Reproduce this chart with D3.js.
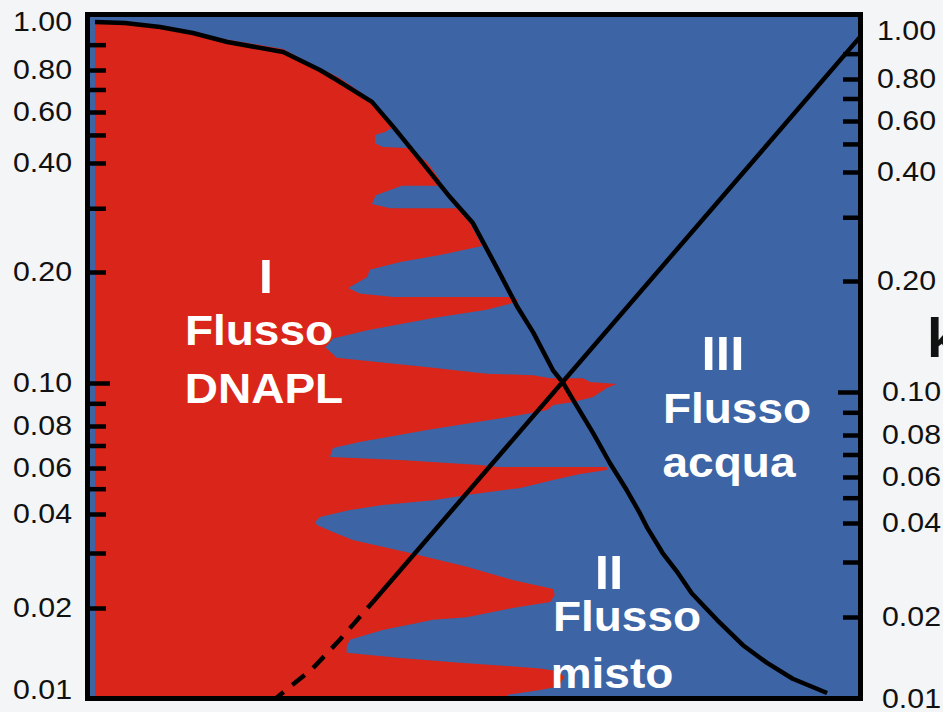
<!DOCTYPE html>
<html>
<head>
<meta charset="utf-8">
<script src="https://cdn.jsdelivr.net/npm/d3@7"></script>
<style>
  html, body { margin: 0; padding: 0; background: #f3f5f6; }
  svg { display: block; }
</style>
</head>
<body>
<svg id="chart" width="943" height="712"></svg>
<script>
// ---- Data: relative permeability (log) against water saturation ----

// DNAPL relative permeability curve (left axis)
const satDNAPL = [0, 0.039, 0.085, 0.128, 0.173, 0.246, 0.294, 0.316, 0.362, 0.390, 0.425, 0.464, 0.494, 0.525,
  0.552, 0.573, 0.599, 0.612, 0.625, 0.651, 0.673, 0.695, 0.712, 0.722, 0.742, 0.762, 0.780, 0.813, 0.847,
  0.878, 0.912, 0.957];
const krDNAPL = [1.0, 0.995, 0.977, 0.950, 0.911, 0.870, 0.800, 0.747, 0.643, 0.533, 0.410, 0.322, 0.273, 0.206,
  0.161, 0.137, 0.108, 0.100, 0.0916, 0.0763, 0.0621, 0.0494, 0.0404, 0.0361, 0.0300, 0.0259, 0.0223, 0.0181, 0.0146,
  0.0126, 0.0110, 0.00975];

// Water relative permeability (right axis): extrapolated part, then measured part
const satWaterExtrap = [0.231, 0.239, 0.284, 0.320, 0.363];
const krWaterExtrap  = [0.0097, 0.0102, 0.0129, 0.0165, 0.0223];
const satWater = [0.363, 0.600, 1.0];
const krWater  = [0.0223, 0.100, 0.972];

// Limit of the DNAPL-flow field (right edge of region I), listed from top to bottom
const fieldSat = [0.039, 0.085, 0.128, 0.176, 0.246, 0.294, 0.320, 0.362,
  0.388, 0.379, 0.366, 0.366, 0.376, 0.408, 0.412, 0.434, 0.451,
  0.448, 0.401, 0.367, 0.362, 0.386, 0.473, 0.490, 0.506,
  0.451, 0.399, 0.359, 0.356, 0.331, 0.346, 0.390, 0.546, 0.553,
  0.552, 0.512, 0.442, 0.356, 0.311, 0.301, 0.316, 0.350, 0.442, 0.512, 0.573, 0.595,
  0.638, 0.647, 0.682, 0.669, 0.651, 0.625, 0.599, 0.591,
  0.556, 0.434, 0.346, 0.311, 0.307, 0.399, 0.503, 0.529, 0.669,
  0.669, 0.634, 0.599, 0.556, 0.486, 0.442, 0.376, 0.333, 0.294, 0.288,
  0.290, 0.311, 0.337, 0.412, 0.486, 0.546, 0.599, 0.601, 0.595,
  0.546, 0.486, 0.442, 0.376, 0.333, 0.329,
  0.329, 0.399, 0.477, 0.582, 0.599, 0.614, 0.605, 0.582, 0.539, 0.539];
const fieldKr = [0.991, 0.972, 0.950, 0.920, 0.882, 0.807, 0.757, 0.651,
  0.528, 0.512, 0.500, 0.469, 0.454, 0.451, 0.444, 0.403, 0.359,
  0.346, 0.346, 0.326, 0.308, 0.300, 0.300, 0.273, 0.236,
  0.223, 0.213, 0.203, 0.194, 0.181, 0.175, 0.171, 0.171, 0.168,
  0.166, 0.158, 0.150, 0.139, 0.132, 0.125, 0.117, 0.115, 0.110, 0.106, 0.105, 0.103,
  0.103, 0.1006, 0.0995, 0.0974, 0.0930, 0.0906, 0.0892, 0.0869,
  0.0847, 0.0778, 0.0717, 0.0688, 0.0647, 0.0634, 0.0612, 0.0604, 0.0604,
  0.0590, 0.0569, 0.0540, 0.0503, 0.0473, 0.0452, 0.0433, 0.0414, 0.0391, 0.0377,
  0.0369, 0.0350, 0.0330, 0.0300, 0.0271, 0.0246, 0.0230, 0.0220, 0.0209,
  0.0200, 0.0185, 0.0181, 0.0166, 0.0153, 0.0144,
  0.0137, 0.0131, 0.0126, 0.0120, 0.0118, 0.0112, 0.0103, 0.0100, 0.0096, 0.0092];

// Axis ticks
const tickValues = [0.01, 0.02, 0.03, 0.04, 0.05, 0.06, 0.07, 0.08, 0.09, 0.1,
  0.2, 0.3, 0.4, 0.5, 0.6, 0.7, 0.8, 0.9, 1];
const tickLabels = [0.01, 0.02, 0.04, 0.06, 0.08, 0.1, 0.2, 0.4, 0.6, 0.8, 1];

// Flow regime names
const regionI   = ["I", "Flusso", "DNAPL"];
const regionIII = ["III", "Flusso", "acqua"];
const regionII  = ["II", "Flusso", "misto"];

// ---- Drawing ----
const BLUE = "#3d64a5", RED = "#da261a", INK = "#111";
const FONT = "'Liberation Sans', Arial, Helvetica, sans-serif";

const svg = d3.select("#chart");
const x = d3.scaleLinear().domain([0, 1]).range([95, 860]);

// The printed log axis is hand-spaced, so the scale is calibrated
// piecewise on each labelled value.
const axisStops = [690, 608, 514, 468, 426, 383, 272, 163, 112, 70, 22];
const yL = d3.scaleLog().domain(tickLabels).range(axisStops);
const yR = d3.scaleLog().domain(tickLabels).range(axisStops.map(v => v + 9));

svg.append("defs").append("clipPath").attr("id", "plotClip")
  .append("rect").attr("x", 90).attr("y", 17).attr("width", 768).attr("height", 679);

// plot background (water flow field)
svg.append("rect").attr("x", 87.5).attr("y", 14.5).attr("width", 773).attr("height", 684)
  .attr("fill", BLUE);

const plot = svg.append("g").attr("clip-path", "url(#plotClip)");

// DNAPL flow field
const field = fieldSat.map((s, i) => ({ sw: s, kr: fieldKr[i] }));
plot.append("path")
  .datum(field)
  .attr("fill", RED)
  .attr("d", d3.area().x0(x(0)).x1(d => x(d.sw)).y(d => yL(d.kr)));

// curves
const lineL = d3.line().x(d => x(d.sw)).y(d => yL(d.kr));
const lineR = d3.line().x(d => x(d.sw)).y(d => yR(d.kr));
const curveStyle = sel => sel.attr("fill", "none").attr("stroke", "#000")
  .attr("stroke-width", 4.5).attr("stroke-linejoin", "round");

plot.append("path").datum(satDNAPL.map((s, i) => ({ sw: s, kr: krDNAPL[i] })))
  .call(curveStyle).attr("d", lineL);
plot.append("path").datum(satWater.map((s, i) => ({ sw: s, kr: krWater[i] })))
  .call(curveStyle).attr("d", lineR);
plot.append("path").datum(satWaterExtrap.map((s, i) => ({ sw: s, kr: krWaterExtrap[i] })))
  .call(curveStyle).attr("stroke-dasharray", "16,11").attr("d", lineR);

// frame
svg.append("rect").attr("x", 87.5).attr("y", 14.5).attr("width", 773).attr("height", 684)
  .attr("fill", "none").attr("stroke", "#000").attr("stroke-width", 5);

// axes
const fmt = d3.format(".2f");
const labelSet = new Set(tickLabels);
const styleAxis = (g, sign) => {
  g.select(".domain").remove();
  g.selectAll(".tick line").attr("stroke", "#000").attr("stroke-width", 4.5);
  g.selectAll(".tick line").filter(d => d === 0.1).attr("x2", sign * 22);
  g.selectAll(".tick line").filter(d => d === 1 || d === 0.01).remove();
  g.selectAll(".tick text")
    .attr("fill", INK).style("font-family", FONT).style("font-size", "27px")
    .filter(function () { return this.textContent !== ""; })
    .attr("textLength", 59).attr("lengthAdjust", "spacingAndGlyphs");
};

svg.append("g").attr("transform", "translate(88,0)")
  .call(d3.axisLeft(yL).tickValues(tickValues).tickSizeInner(-18).tickSizeOuter(0)
    .tickPadding(16).tickFormat(d => labelSet.has(d) ? fmt(d) : ""))
  .call(g => styleAxis(g, 1));

svg.append("g").attr("transform", "translate(860,0)")
  .call(d3.axisRight(yR).tickValues(tickValues).tickSizeInner(-17).tickSizeOuter(0)
    .tickPadding(17).tickFormat(d => labelSet.has(d) ? fmt(d) : ""))
  .call(g => styleAxis(g, -1))
  .call(g => g.selectAll(".tick text").filter(d => d < 0.2).attr("x", 22));

// right axis title (partly outside the window)
svg.append("text").attr("x", 927).attr("y", 357).text("kr")
  .attr("fill", INK).style("font-family", FONT).style("font-size", "56px").style("font-weight", "bold");

// regime labels
const labelLayout = [
  { lines: regionI,   pos: [[266, 293], [259, 345], [264, 403]] },
  { lines: regionIII, pos: [[723, 370], [737, 423], [729, 477]] },
  { lines: regionII,  pos: [[609, 589], [627, 631], [612, 688]] }
];
labelLayout.forEach(block => {
  block.lines.forEach((t, i) => {
    const [cx, cy] = block.pos[i];
    svg.append("text")
      .attr("transform", `translate(${cx},${cy}) scale(1.07,1)`)
      .attr("text-anchor", "middle")
      .attr("fill", "#fff")
      .style("font-family", FONT).style("font-weight", "bold")
      .style("font-size", i === 0 ? "48px" : "43px")
      .text(t);
  });
});
</script>
</body>
</html>
